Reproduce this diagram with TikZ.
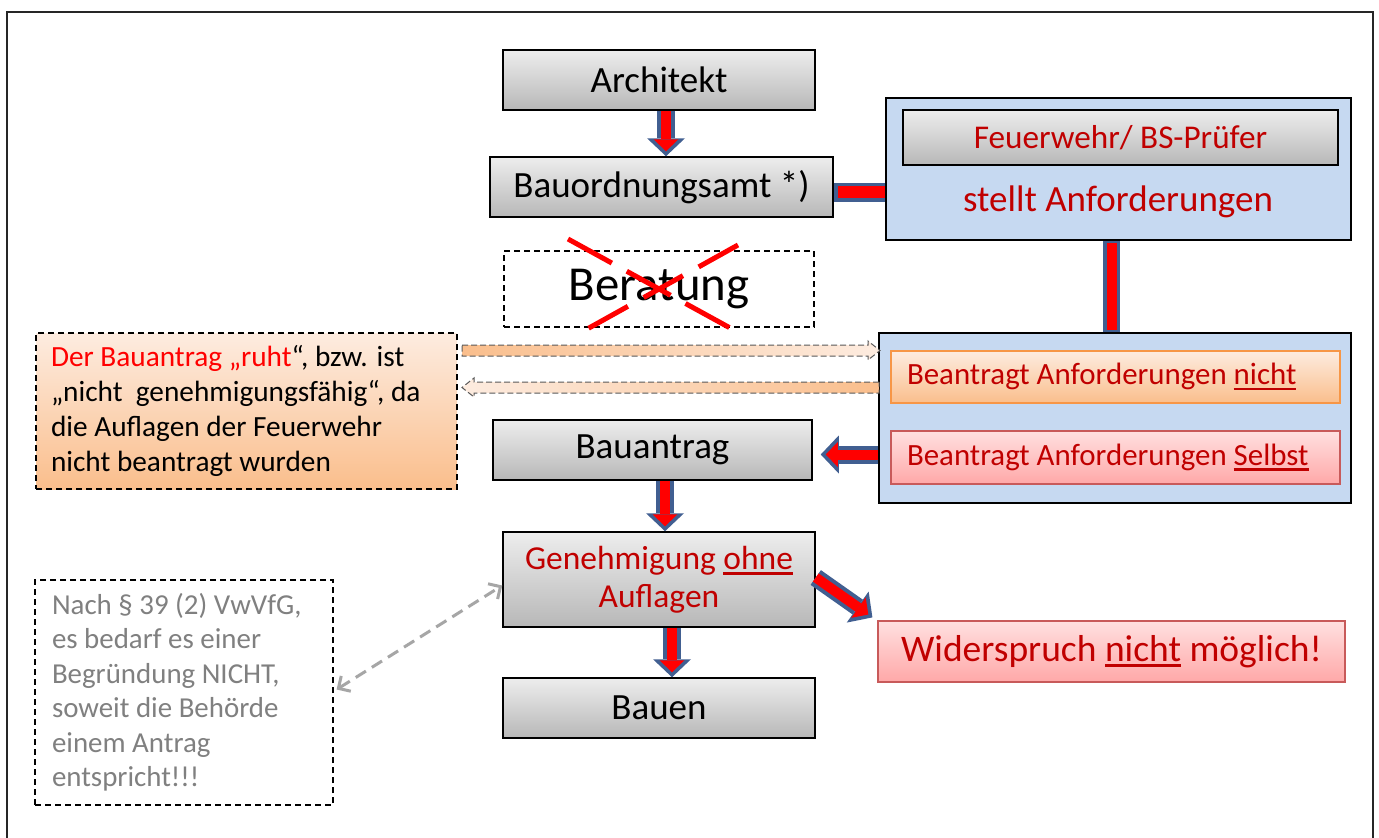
\documentclass[tikz,border=0pt]{standalone}
\usepackage{fontspec}
\setmainfont{Carlito}
\usetikzlibrary{arrows.meta,calc}
\definecolor{arrowblue}{RGB}{65,95,145}
\definecolor{boxblue}{RGB}{198,217,241}
\definecolor{darkred}{RGB}{192,0,0}
\definecolor{orangedark}{RGB}{250,190,140}
\definecolor{orangelight}{RGB}{253,236,224}
\definecolor{orangeborder}{RGB}{247,150,70}
\definecolor{pinktop}{RGB}{255,224,224}
\definecolor{pinkbot}{RGB}{255,168,168}
\definecolor{pinkborder}{RGB}{200,90,90}
\definecolor{notegray}{RGB}{128,128,128}
\definecolor{dashgray}{RGB}{166,166,166}
\newcommand\myul[1]{\setbox0=\hbox{#1}\rlap{\rule[-5.5pt]{\wd0}{2.6pt}}\box0\relax}
\tikzset{
  graybox/.style={draw=black, line width=1.5pt, top color=black!7, bottom color=black!28, inner sep=0pt, align=center},
  bluebox/.style={draw=black, line width=1.5pt, fill=boxblue, inner sep=0pt},
  dashbox/.style={draw=black, line width=1.2pt, dash pattern=on 6pt off 4pt, inner sep=0pt},
  orangebox/.style={draw=orangeborder, line width=1.2pt, top color=orangelight, bottom color=orangedark, inner sep=0pt},
  pinkbox/.style={draw=pinkborder, line width=1.2pt, top color=pinktop, bottom color=pinkbot, inner sep=0pt},
  fbig/.style={font=\fontsize{37}{44}\selectfont},
  bouter/.style={draw=arrowblue, line width=18pt},
  binner/.style={draw=red, line width=10pt},
  outtip/.style={-{Triangle[width=38pt,length=18pt,line width=0pt]}},
  intip/.style={-{Triangle[width=25pt,length=12pt,line width=0pt]}, shorten >=5pt},
  oarrow/.style={draw=black!65, line width=1pt, dash pattern=on 6pt off 3pt},
}
\begin{document}
\begin{tikzpicture}[x=1pt,y=-1pt]
\useasboundingbox (0,0) rectangle (1379,838);
\fill[white] (0,0) rectangle (1379,838);
\draw[line width=1.6pt, black!85] (7,840) -- (7,12) -- (1373,12) -- (1373,840);

% main column
\node[graybox, fbig, minimum width=312pt, minimum height=60pt] (arch) at (659,80) {Architekt};
\node[graybox, fbig, minimum width=343pt, minimum height=60pt] (bord) at (661.5,187) {Bauordnungsamt *)};
\node[dashbox, minimum width=310pt, minimum height=76pt, font=\fontsize{48.8}{56}\selectfont] (berat) at (659,289) {Beratung};
\node[graybox, fbig, minimum width=319pt, minimum height=60pt] (antrag) at (652.5,450) {Bauantrag};
\node[graybox, text=darkred, minimum width=312pt, minimum height=95pt, font=\fontsize{33.5}{38}\selectfont] (gen) at (659,579.5) {Genehmigung \myul{ohne}\\Auflagen};
\node[graybox, fbig, minimum width=312pt, minimum height=60pt] (bauen) at (659,708) {Bauen};

% upper blue box
\node[bluebox, minimum width=465pt, minimum height=142pt] (blue1) at (1118.5,169) {};
\node[graybox, text=darkred, minimum width=435pt, minimum height=55pt, font=\fontsize{33.2}{40}\selectfont] (fw) at (1120.5,137.5) {Feuerwehr/ BS-Prüfer};
\node[text=darkred, fbig, inner sep=0pt] (stellt) at (1118,202) {stellt Anforderungen};

% lower blue box
\node[bluebox, minimum width=472pt, minimum height=170pt] (blue2) at (1115,418) {};
\node[orangebox, text=darkred, minimum height=52pt, text width=417pt, inner xsep=16pt, align=flush left, font=\fontsize{30.9}{36}\selectfont] (nicht) at (1115.5,377) {Beantragt Anforderungen \myul{nicht}};
\node[pinkbox, text=darkred, minimum height=53pt, text width=417pt, inner xsep=16pt, align=flush left, font=\fontsize{30.9}{36}\selectfont] (selbst) at (1115.5,457.5) {Beantragt Anforderungen \myul{Selbst}};

% Widerspruch
\node[pinkbox, text=darkred, minimum width=467pt, minimum height=61pt, font=\fontsize{37.5}{44}\selectfont] (wid) at (1111.5,651.5) {Widerspruch \myul{nicht} möglich!};

% left orange note
\node[dashbox, top color=orangelight, bottom color=orangedark, minimum height=156pt, text width=391pt, inner xsep=15pt, align=flush left, font=\fontsize{29.3}{35}\selectfont] (ruht) at (246.5,411)
 {\textcolor{red}{Der Bauantrag „ruht}“, bzw. ist\\„nicht\ \ genehmigungsfähig“, da\\die Auflagen der Feuerwehr\\nicht beantragt wurden};

% gray note
\node[dashbox, text=notegray, minimum height=225pt, text width=264pt, inner xsep=17pt, align=flush left, font=\fontsize{28.9}{34.5}\selectfont] (note) at (184,692.5)
 {Nach § 39 (2) VwVfG,\\es bedarf es einer\\Begründung NICHT,\\soweit die Behörde\\einem Antrag\\entspricht!!!};

% red X over Beratung
\draw[red, line width=5pt, dash pattern=on 50pt off 17pt] (568,239) -- (732,329);
\draw[red, line width=5pt, dash pattern=on 45pt off 18pt] (738,245) -- (580,333);

% block arrows
\coordinate (a1s) at ($(arch.south)+(7,0)$);
\coordinate (a1e) at ($(bord.north)+(4.5,0)$);
\draw[bouter, outtip] (a1s) -- (a1e);
\draw[binner, intip] (a1s) -- (a1e);

\coordinate (b1s) at ($(bord.east)+(0,5)$);
\coordinate (b1e) at (blue1.west |- b1s);
\draw[bouter, line width=19pt] (b1s) -- (b1e);
\draw[binner, line width=12pt, shorten <=4pt] (b1s) -- (b1e);

\coordinate (c1s) at ($(blue1.south)+(-7,0)$);
\coordinate (c1e) at (c1s |- blue2.north);
\draw[bouter, line width=17pt] (c1s) -- (c1e);
\draw[binner, line width=10pt, shorten <=2pt, shorten >=2pt] (c1s) -- (c1e);

\coordinate (d1s) at ($(blue2.west |- selbst.west)+(0,-3)$);
\coordinate (d1e) at ($(antrag.east |- selbst.west)+(8,-3)$);
\draw[bouter, outtip] (d1s) -- (d1e);
\draw[binner, intip] (d1s) -- (d1e);

\coordinate (e1s) at ($(antrag.south)+(12.5,0)$);
\coordinate (e1e) at (e1s |- gen.north);
\draw[bouter, outtip] (e1s) -- (e1e);
\draw[binner, intip] (e1s) -- (e1e);

\coordinate (f1s) at ($(gen.south)+(13,0)$);
\coordinate (f1e) at (f1s |- bauen.north);
\draw[bouter, outtip] (f1s) -- (f1e);
\draw[binner, intip] (f1s) -- (f1e);

\coordinate (g1s) at ($(gen.east)+(0,-2)$);
\coordinate (g1e) at ($(wid.north west)+(-5,-3)$);
\draw[bouter, outtip] (g1s) -- (g1e);
\draw[binner, intip] (g1s) -- (g1e);

% orange dashed arrows
\path[oarrow, left color=orangedark, right color=orangelight]
  (462,345) -- (868,345) -- (868,341) -- (880,350.5) -- (868,360) -- (868,356) -- (462,356) -- cycle;
\path[oarrow, left color=orangelight, right color=orangedark]
  (879,382) -- (474,382) -- (474,378) -- (462,387.5) -- (474,397) -- (474,393) -- (879,393) -- cycle;

% gray dashed double arrow
\draw[dashgray, line width=3pt, dash pattern=on 12pt off 7pt, {Straight Barb[length=9pt,width=18pt]}-{Straight Barb[length=9pt,width=18pt]}]
  ($(note.east)+(3,-3)$) -- ($(gen.west)+(0,6)$);
\end{tikzpicture}
\end{document}
